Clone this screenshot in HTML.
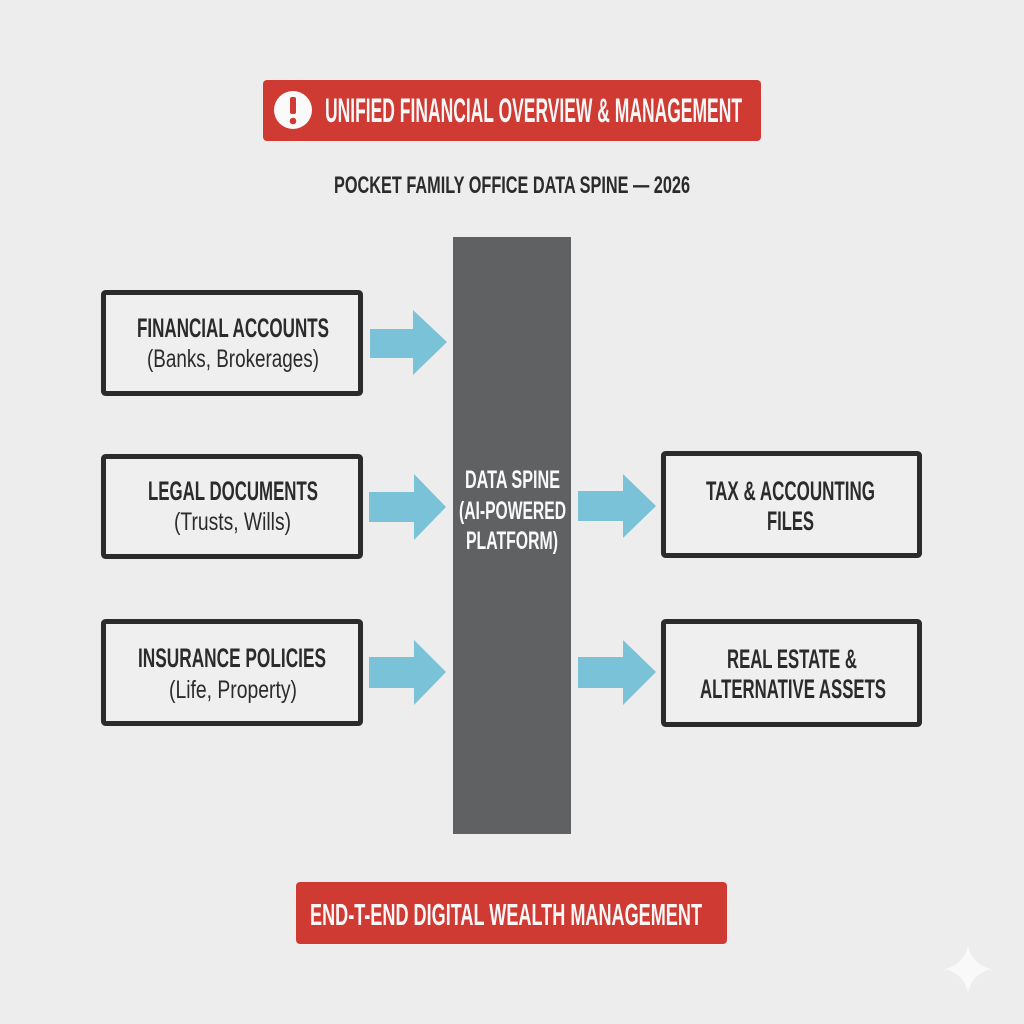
<!DOCTYPE html>
<html><head><meta charset="utf-8"><style>
html,body{margin:0;padding:0;background:#ededed;}
svg{display:block}
text{font-family:"Liberation Sans Narrow","Liberation Sans",sans-serif;font-weight:bold;}
</style></head><body>
<svg width="1024" height="1024" viewBox="0 0 1024 1024" xmlns="http://www.w3.org/2000/svg">
<rect width="1024" height="1024" fill="#ededed"/>
<!-- top banner -->
<rect x="263" y="80" width="498" height="61" rx="4" fill="#cf3a33"/>
<circle cx="293" cy="110" r="19" fill="#fafafa"/>
<rect x="290" y="97" width="6" height="17" rx="2" fill="#cf3a33"/>
<circle cx="293" cy="121" r="3.3" fill="#cf3a33"/>
<text x="325" y="122" font-size="34" fill="#f7f7f7" textLength="417" lengthAdjust="spacingAndGlyphs">UNIFIED FINANCIAL OVERVIEW &amp; MANAGEMENT</text>
<text x="334" y="193" font-size="24" fill="#2b2b2b" textLength="356" lengthAdjust="spacingAndGlyphs">POCKET FAMILY OFFICE DATA SPINE — 2026</text>
<!-- spine -->
<rect x="453" y="237" width="118" height="597" fill="#5f6163"/>
<g fill="#fafafa" font-size="25">
<text x="465" y="488" textLength="95" lengthAdjust="spacingAndGlyphs">DATA SPINE</text>
<text x="459" y="519" textLength="107" lengthAdjust="spacingAndGlyphs">(AI-POWERED</text>
<text x="466" y="549" textLength="92" lengthAdjust="spacingAndGlyphs">PLATFORM)</text>
</g>
<!-- boxes -->
<g fill="#efefef" stroke="#2b2b2b" stroke-width="5">
<rect x="103.5" y="292.5" width="257" height="101" rx="2"/>
<rect x="103.5" y="456.5" width="257" height="100" rx="2"/>
<rect x="103.5" y="621.5" width="257" height="102" rx="2"/>
<rect x="663.5" y="453.5" width="256" height="102" rx="2"/>
<rect x="663.5" y="621.5" width="256" height="103" rx="2"/>
</g>
<g fill="#2b2b2b">
<text x="137" y="337" font-size="27" textLength="192" lengthAdjust="spacingAndGlyphs">FINANCIAL ACCOUNTS</text>
<text x="147" y="367" font-size="25" font-weight="normal" style="font-weight:normal" textLength="172" lengthAdjust="spacingAndGlyphs">(Banks, Brokerages)</text>
<text x="148" y="500" font-size="27" textLength="170" lengthAdjust="spacingAndGlyphs">LEGAL DOCUMENTS</text>
<text x="174" y="530" font-size="25" style="font-weight:normal" textLength="117" lengthAdjust="spacingAndGlyphs">(Trusts, Wills)</text>
<text x="138" y="667" font-size="27" textLength="188" lengthAdjust="spacingAndGlyphs">INSURANCE POLICIES</text>
<text x="169" y="698" font-size="25" style="font-weight:normal" textLength="128" lengthAdjust="spacingAndGlyphs">(Life, Property)</text>
<text x="706" y="500" font-size="27" textLength="169" lengthAdjust="spacingAndGlyphs">TAX &amp; ACCOUNTING</text>
<text x="767" y="530" font-size="27" textLength="47" lengthAdjust="spacingAndGlyphs">FILES</text>
<text x="727" y="668" font-size="27" textLength="130" lengthAdjust="spacingAndGlyphs">REAL ESTATE &amp;</text>
<text x="700" y="698" font-size="27" textLength="186" lengthAdjust="spacingAndGlyphs">ALTERNATIVE ASSETS</text>
</g>
<!-- arrows -->
<g fill="#79c2d8">
<polygon points="370,329 413,329 413,310 447,342 413,375 413,358 370,358"/>
<polygon points="369,492 414,492 414,474 446,507 414,540 414,522 369,522"/>
<polygon points="369,657 414,657 414,640 446,672 414,705 414,688 369,688"/>
<polygon points="578,491 623,491 623,474 656,506 623,538 623,521 578,521"/>
<polygon points="578,657 623,657 623,640 656,672 623,705 623,688 578,688"/>
</g>
<!-- bottom banner -->
<rect x="296" y="882" width="431" height="62" rx="4" fill="#cf3a33"/>
<text x="310" y="925" font-size="31" fill="#f7f7f7" textLength="392" lengthAdjust="spacingAndGlyphs">END-T-END DIGITAL WEALTH MANAGEMENT</text>
<!-- sparkle -->
<path d="M968,945 Q972,965 992,969 Q972,973 968,993 Q964,973 944,969 Q964,965 968,945Z" fill="#f9f9f9"/>
</svg>
</body></html>
